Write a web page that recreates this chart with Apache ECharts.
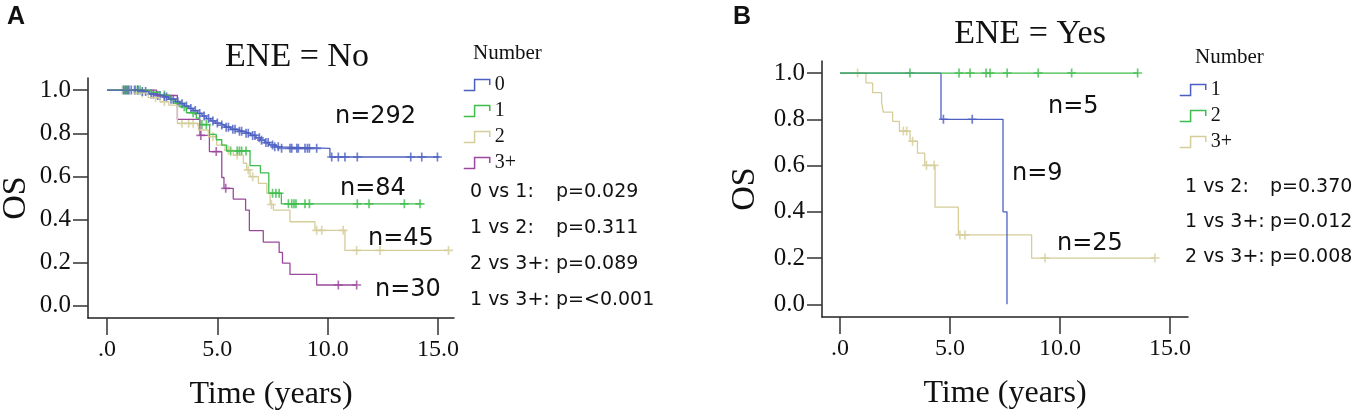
<!DOCTYPE html>
<html>
<head>
<meta charset="utf-8">
<script src="https://cdn.jsdelivr.net/npm/echarts@6/dist/echarts.min.js"></script>
<style>
  html, body { margin: 0; padding: 0; background: #fff; }
  #main { width: 1358px; height: 412px; }
</style>
</head>
<body>
<div id="main"></div>
<script>
// tick values + labels (both panels)
const xTicks = [0, 5, 10, 15];
const xTickLabels = ['.0', '5.0', '10.0', '15.0'];
const yTicks = [0, 0.2, 0.4, 0.6, 0.8, 1.0];
const yTickLabels = ['0.0', '0.2', '0.4', '0.6', '0.8', '1.0'];

// ENE = No : event times / survival after event / last follow-up / censored times
const no0Times = [1.5, 1.9, 2.2, 2.5, 2.8, 3.1, 3.3, 3.5, 3.7, 3.9, 4.1, 4.3, 4.5, 4.7, 4.9, 5.1, 5.35, 5.6, 5.9, 6.2, 6.5, 6.75, 6.95, 7.15, 7.35, 7.55, 7.8, 10.1];
const no0Surv = [0.993, 0.982, 0.975, 0.968, 0.958, 0.947, 0.937, 0.926, 0.915, 0.905, 0.892, 0.880, 0.868, 0.857, 0.847, 0.838, 0.828, 0.818, 0.809, 0.800, 0.790, 0.779, 0.768, 0.757, 0.746, 0.737, 0.730, 0.690];
const no0End = 15.06;
const no0Cens = [0.75, 0.85, 0.95, 1.1, 1.25, 1.4, 1.6, 1.75, 2.0, 2.1, 2.3, 2.4, 2.6, 2.7, 2.9, 3.0, 3.2, 3.4, 3.6, 3.8, 4.0, 4.2, 4.4, 4.6, 4.8, 5.0, 5.2, 5.4, 5.5, 5.7, 5.8, 6.0, 6.1, 6.3, 6.4, 6.6, 6.7, 6.9, 7.0, 7.2, 7.3, 7.5, 7.6, 7.76, 7.91, 8.29, 8.37, 8.6, 8.67, 8.97, 9.08, 9.17, 9.5, 10.18, 10.48, 10.78, 11.34, 13.76, 14.26, 14.97];

const no1Times = [2.0, 2.4, 2.85, 3.1, 3.3, 3.6, 4.05, 4.2, 4.65, 4.95, 5.2, 5.42, 6.48, 6.95, 7.33, 7.9];
const no1Surv = [0.99, 0.977, 0.955, 0.94, 0.923, 0.895, 0.87, 0.84, 0.795, 0.77, 0.745, 0.718, 0.65, 0.616, 0.522, 0.473];
const no1End = 14.26;
const no1Cens = [0.8, 0.9, 1.0, 1.3, 1.4, 1.5, 2.6, 3.2, 3.5, 3.9, 4.3, 4.5, 5.6, 5.9, 6.0, 6.1, 6.3, 7.5, 7.65, 7.8, 8.22, 8.37, 8.47, 8.56, 8.97, 9.17, 11.34, 11.87, 13.47, 14.18];

const no2Times = [1.2, 1.87, 2.4, 2.8, 3.19, 4.14, 4.59, 4.97, 5.35, 5.72, 6.18, 6.33, 6.48, 6.86, 7.24, 7.39, 7.54, 8.29, 9.42, 10.78];
const no2Surv = [0.986, 0.965, 0.946, 0.93, 0.846, 0.815, 0.784, 0.745, 0.722, 0.699, 0.661, 0.63, 0.599, 0.568, 0.522, 0.47, 0.444, 0.39, 0.35, 0.257];
const no2End = 15.47;
const no2Cens = [0.7, 1.0, 1.6, 2.2, 2.6, 3.4, 3.7, 3.9, 4.8, 5.5, 5.9, 6.4, 6.6, 7.45, 9.5, 9.73, 10.7, 11.31, 12.37, 15.47];

const no3Times = [2.25, 3.19, 4.21, 4.64, 5.2, 5.3, 5.72, 6.28, 6.45, 7.08, 7.8, 7.95, 8.29, 9.5];
const no3Surv = [0.975, 0.864, 0.790, 0.715, 0.595, 0.545, 0.495, 0.444, 0.349, 0.296, 0.248, 0.198, 0.146, 0.097];
const no3End = 11.31;
const no3Cens = [4.25, 4.95, 5.38, 10.48, 11.31];

// ENE = Yes
const yes1Times = [4.59, 7.41, 7.59];
const yes1Surv = [0.8, 0.4, 0.0];
const yes1End = 7.59;
const yes1Cens = [4.7, 6.01];

const yes2Times = [];
const yes2Surv = [];
const yes2End = 13.55;
const yes2Cens = [3.18, 5.41, 5.91, 6.64, 6.82, 7.6, 9.01, 10.53, 13.53];

const yes3Times = [1.18, 1.48, 1.89, 1.97, 2.39, 2.70, 3.18, 3.52, 3.85, 4.32, 5.38, 8.71];
const yes3Surv = [0.957, 0.915, 0.872, 0.831, 0.791, 0.749, 0.705, 0.654, 0.601, 0.42, 0.30, 0.20];
const yes3End = 14.32;
const yes3Cens = [0.8, 2.88, 3.03, 3.30, 3.93, 4.28, 5.45, 5.68, 9.32, 14.32];

const noLabels = ['n=292', 'n=84', 'n=45', 'n=30'];
const yesLabels = ['n=5', 'n=9', 'n=25'];
const noTests = ['0 vs 1:', '1 vs 2:', '2 vs 3+:', '1 vs 3+:'];
const noPvals = ['p=0.029', 'p=0.311', 'p=0.089', 'p=<0.001'];
const yesTests = ['1 vs 2:', '1 vs 3+:', '2 vs 3+:'];
const yesPvals = ['p=0.370', 'p=0.012', 'p=0.008'];

const BLUE = '#4d60c2', GREEN = '#3fbd4c', BEIGE = '#d5cd9a', PURPLE = '#9a4a9c';
const SERIF = '"Liberation Serif", "Times New Roman", serif';
const SANS = '"DejaVu Sans", sans-serif';
const BOLD = 'bold 25px "Liberation Sans", Arial, sans-serif';
const PLUS = 'path://M6.5,0H9.5V6.5H16V9.5H9.5V16H6.5V9.5H0V6.5H6.5Z';
const STEP_ICON = 'path://M0,10H10V0H24V5';

function kmLine(times, surv, end) {
  const pts = [[0, 1]];
  times.forEach((t, i) => pts.push([t, surv[i]]));
  pts.push([end, surv.length ? surv[surv.length - 1] : 1]);
  return pts;
}
function survAt(times, surv, t) {
  let s = 1;
  times.forEach((tt, i) => { if (tt <= t) s = surv[i]; });
  return s;
}
function censPts(times, surv, cens) {
  return cens.map(c => [c, survAt(times, surv, c)]);
}

function km(name, grid, color, times, surv, end, cens) {
  return [
    {
      name: name, type: 'line', xAxisIndex: grid, yAxisIndex: grid,
      step: 'end', symbol: 'none', silent: true,
      lineStyle: { color: color, width: 1.3 },
      itemStyle: { color: color },
      data: kmLine(times, surv, end)
    },
    {
      name: name + ' censored', type: 'scatter', xAxisIndex: grid, yAxisIndex: grid,
      symbol: PLUS, symbolSize: 9, silent: true,
      itemStyle: { color: color },
      data: censPts(times, surv, cens)
    }
  ];
}

function pick(list, labels, v) {
  const i = list.findIndex(x => Math.abs(x - v) < 1e-6);
  return i < 0 ? '' : labels[i];
}

function xAx(grid, min, max) {
  return {
    type: 'value', gridIndex: grid, min: min, max: max,
    axisLine: { onZero: false, lineStyle: { color: '#222', width: 1.5 } },
    axisTick: { customValues: xTicks, length: 17, lineStyle: { color: '#333', width: 1.5 } },
    axisLabel: {
      customValues: xTicks, margin: 20, fontFamily: SERIF, fontSize: 24, color: '#111',
      formatter: v => pick(xTicks, xTickLabels, v)
    },
    splitLine: { show: false },
    name: 'Time (years)', nameLocation: 'middle', nameGap: 61,
    nameTextStyle: { fontFamily: SERIF, fontSize: 32, color: '#111' }
  };
}
function yAx(grid, min, max, gap) {
  return {
    type: 'value', gridIndex: grid, min: min, max: max,
    axisLine: { onZero: false, lineStyle: { color: '#222', width: 1.5 } },
    axisTick: { customValues: yTicks, length: 15, lineStyle: { color: '#333', width: 1.5 } },
    axisLabel: {
      customValues: yTicks, margin: 17, fontFamily: SERIF, fontSize: 25, color: '#111',
      formatter: v => pick(yTicks, yTickLabels, v)
    },
    splitLine: { show: false },
    name: 'OS', nameLocation: 'middle', nameGap: gap,
    nameTextStyle: { fontFamily: SERIF, fontSize: 34, color: '#111' }
  };
}

function legendItem(name, color) {
  return { name: name, itemStyle: { color: 'rgba(0,0,0,0)', borderColor: color, borderWidth: 1.5 } };
}

function txt(x, y, text, font, extra) {
  return {
    type: 'text', x: x, y: y, silent: true,
    style: Object.assign({ text: text, font: font, fill: '#111', textVerticalAlign: 'middle' }, extra || {})
  };
}

const graphics = [
  txt(7, 17, 'A', BOLD),
  txt(733, 17, 'B', BOLD),
  txt(297, 57, 'ENE = No', '34px ' + SERIF, { textAlign: 'center' }),
  txt(1030, 34, 'ENE = Yes', '34px ' + SERIF, { textAlign: 'center' }),
  txt(473, 53, 'Number', '21px ' + SERIF),
  txt(1195, 57, 'Number', '21px ' + SERIF)
];
const noLabelPos = [[335, 117], [340, 189], [368, 239], [375, 290]];
noLabels.forEach((s, i) => graphics.push(txt(noLabelPos[i][0], noLabelPos[i][1], s, '24px ' + SANS)));
const yesLabelPos = [[1048, 107], [1012, 174], [1057, 244]];
yesLabels.forEach((s, i) => graphics.push(txt(yesLabelPos[i][0], yesLabelPos[i][1], s, '24px ' + SANS)));
noTests.forEach((s, i) => {
  const y = 192 + i * 36;
  graphics.push(txt(470, y, s, '19px ' + SANS));
  graphics.push(txt(556, y, noPvals[i], '19px ' + SANS));
});
yesTests.forEach((s, i) => {
  const y = 187 + i * 35;
  graphics.push(txt(1185, y, s, '19px ' + SANS));
  graphics.push(txt(1270, y, yesPvals[i], '19px ' + SANS));
});

const legendBase = {
  orient: 'vertical', padding: 0, itemWidth: 26, itemHeight: 11, itemGap: 6,
  icon: STEP_ICON, selectedMode: false,
  formatter: n => n.split(' ')[1],
  textStyle: { fontFamily: SERIF, fontSize: 20, lineHeight: 20, color: '#111' }
};

const option = {
  animation: false,
  backgroundColor: '#fff',
  grid: [
    { left: 88, top: 78, width: 366, height: 240, outerBoundsMode: 'none', containLabel: false },
    { left: 822, top: 61, width: 366, height: 256, outerBoundsMode: 'none', containLabel: false }
  ],
  xAxis: [xAx(0, -0.86, 15.72), xAx(1, -0.82, 15.82)],
  yAxis: [yAx(0, -0.056, 1.056, 55), yAx(1, -0.055, 1.052, 60)],
  legend: [
    Object.assign({}, legendBase, {
      left: 463, top: 75,
      data: [legendItem('No 0', BLUE), legendItem('No 1', GREEN), legendItem('No 2', BEIGE), legendItem('No 3+', PURPLE)]
    }),
    Object.assign({}, legendBase, {
      left: 1179, top: 80,
      data: [legendItem('Yes 1', BLUE), legendItem('Yes 2', GREEN), legendItem('Yes 3+', BEIGE)]
    })
  ],
  series: [].concat(
    km('No 3+', 0, PURPLE, no3Times, no3Surv, no3End, no3Cens),
    km('No 2', 0, BEIGE, no2Times, no2Surv, no2End, no2Cens),
    km('No 1', 0, GREEN, no1Times, no1Surv, no1End, no1Cens),
    km('No 0', 0, BLUE, no0Times, no0Surv, no0End, no0Cens),
    km('Yes 3+', 1, BEIGE, yes3Times, yes3Surv, yes3End, yes3Cens),
    km('Yes 1', 1, BLUE, yes1Times, yes1Surv, yes1End, yes1Cens),
    km('Yes 2', 1, GREEN, yes2Times, yes2Surv, yes2End, yes2Cens)
  ),
  graphic: graphics
};

const chart = echarts.init(document.getElementById('main'));
chart.setOption(option);
</script>
</body>
</html>
